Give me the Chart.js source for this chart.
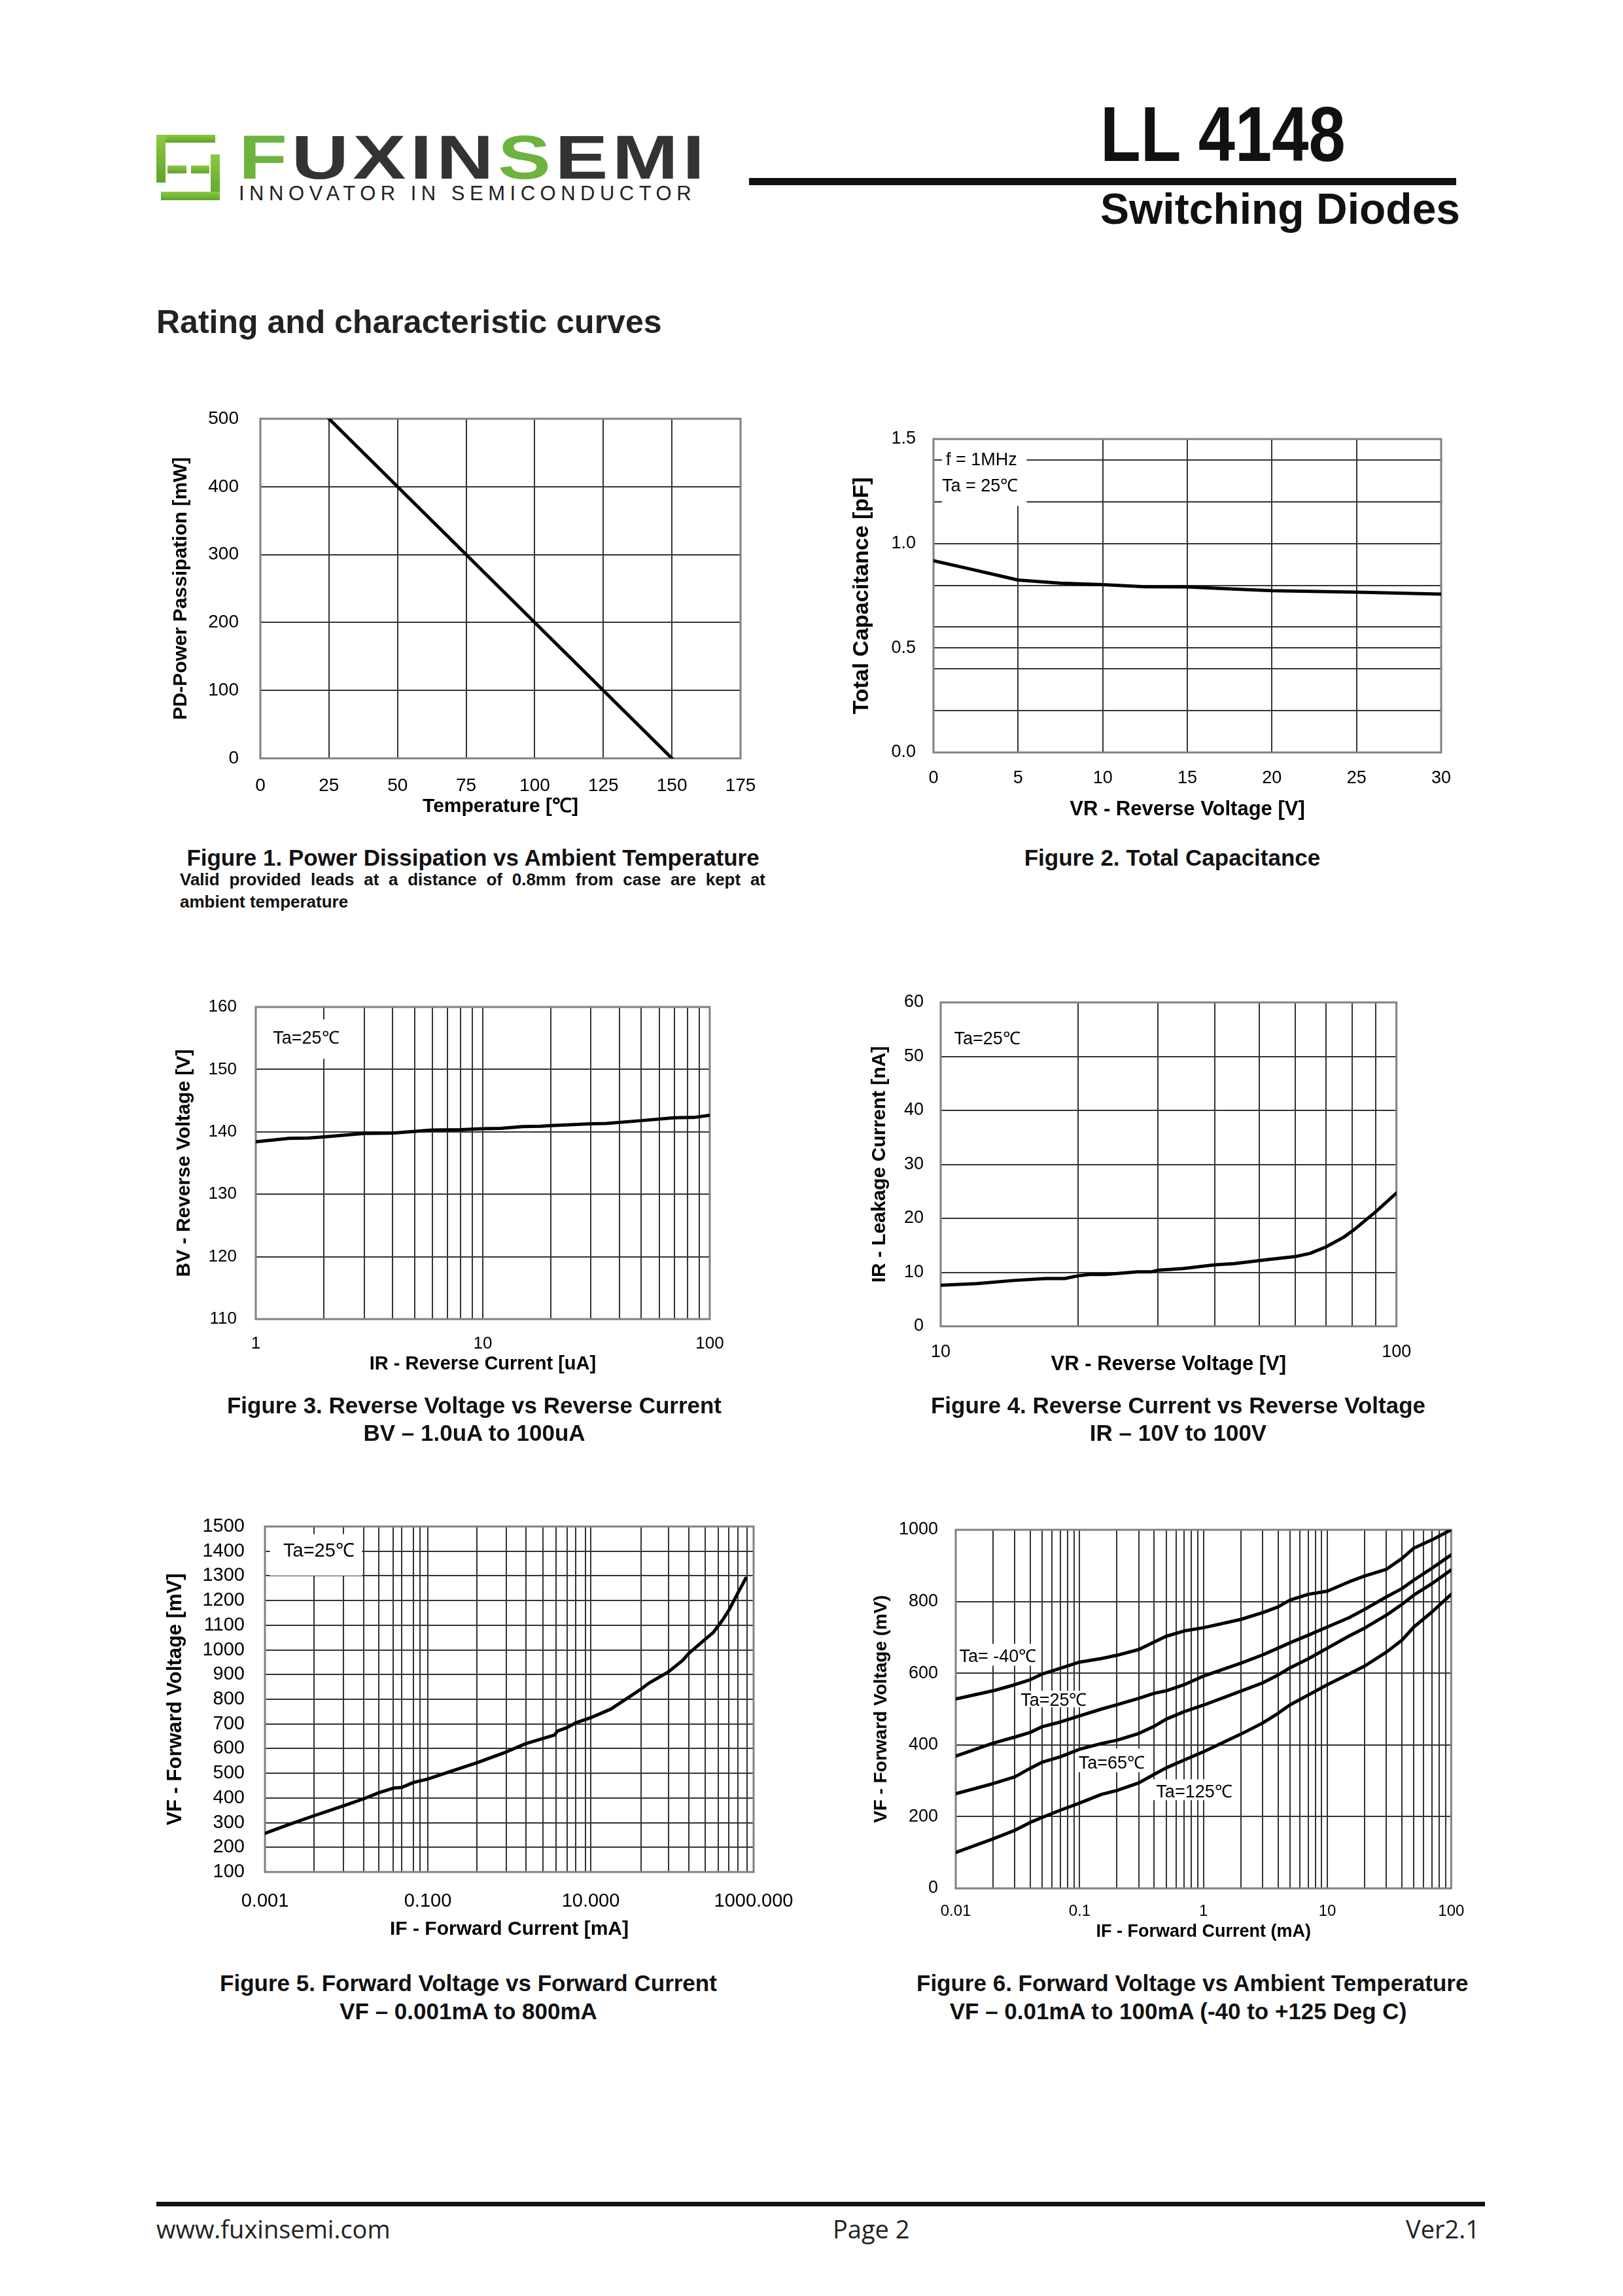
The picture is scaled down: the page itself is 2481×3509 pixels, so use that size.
<!DOCTYPE html>
<html>
<head>
<meta charset="utf-8">
<script src="https://cdn.jsdelivr.net/npm/chart.js@4.4.1/dist/chart.umd.min.js"></script>
<style>
html, body { margin: 0; padding: 0; background: #fff; }
body { width: 2481px; height: 3509px; position: relative; overflow: hidden; font-family: "Liberation Sans", Arial, sans-serif; color: #000; }
.abs { position: absolute; white-space: nowrap; }
canvas { position: absolute; }
.cap { position: absolute; font-weight: bold; font-size: 35px; line-height: 42px; text-align: center; color: #111; white-space: nowrap; }
.g { position: absolute; background: linear-gradient(#8fc843, #5da32b); }
</style>
</head>
<body>

<!-- header -->
<div class="abs" style="left:239px;top:206px;width:97px;height:100px;">
  <div class="g" style="left:0;top:0;width:90px;height:12px;"></div>
  <div class="g" style="left:0;top:0;width:14px;height:73px;"></div>
  <div class="g" style="left:17px;top:47px;width:29px;height:12px;"></div>
  <div class="g" style="left:53px;top:47px;width:28px;height:12px;"></div>
  <div class="g" style="left:83px;top:30px;width:14px;height:70px;"></div>
  <div class="g" style="left:7px;top:87px;width:90px;height:13px;"></div>
</div>
<div class="abs" style="left:365px;top:194px;font-size:94px;line-height:94px;font-weight:bold;letter-spacing:5px;transform:scaleX(1.29);transform-origin:0 0;color:#333;">
  <span style="color:#6db33f">F</span>UXIN<span style="color:#6db33f">S</span>EMI
</div>
<div class="abs" style="left:365px;top:280px;font-size:31px;line-height:31px;letter-spacing:7.5px;color:#222;">INNOVATOR IN SEMICONDUCTOR</div>

<div class="abs" style="left:1682px;top:145px;font-size:119px;line-height:119px;font-weight:bold;transform:scaleX(0.85);transform-origin:0 0;color:#111;">LL 4148</div>
<div class="abs" style="left:1145px;top:272px;width:1081px;height:11px;background:#111;"></div>
<div class="abs" style="left:1682px;top:286px;font-size:66px;line-height:66px;font-weight:bold;color:#111;">Switching Diodes</div>

<div class="abs" style="left:239px;top:467px;font-size:50px;line-height:50px;font-weight:bold;color:#222;">Rating and characteristic curves</div>

<!-- charts -->
<canvas id="fig1"></canvas>
<canvas id="fig2"></canvas>
<canvas id="fig3"></canvas>
<canvas id="fig4"></canvas>
<canvas id="fig5"></canvas>
<canvas id="fig6"></canvas>

<!-- captions -->
<div class="cap" style="left:273px;top:1290px;width:900px;">Figure 1. Power Dissipation vs Ambient Temperature</div>
<div class="abs" style="left:275px;top:1327px;width:895px;font-size:26px;line-height:34px;font-weight:bold;white-space:normal;text-align:justify;text-align-last:left;color:#111;">Valid provided leads at a distance of 0.8mm from case are kept at ambient temperature</div>
<div class="cap" style="left:1392px;top:1290px;width:800px;">Figure 2. Total Capacitance</div>

<div class="cap" style="left:325px;top:2127px;width:800px;">Figure 3. Reverse Voltage vs Reverse Current</div>
<div class="cap" style="left:325px;top:2169px;width:800px;">BV – 1.0uA to 100uA</div>
<div class="cap" style="left:1401px;top:2127px;width:800px;">Figure 4. Reverse Current vs Reverse Voltage</div>
<div class="cap" style="left:1401px;top:2169px;width:800px;">IR – 10V to 100V</div>

<div class="cap" style="left:316px;top:3010px;width:800px;">Figure 5. Forward Voltage vs Forward Current</div>
<div class="cap" style="left:316px;top:3053px;width:800px;">VF – 0.001mA to 800mA</div>
<div class="cap" style="left:1401px;top:3010px;width:800px;">Figure 6. Forward Voltage vs Ambient Temperature</div>
<div class="cap" style="left:1401px;top:3053px;width:800px;">VF – 0.01mA to 100mA (-40 to +125 Deg C)</div>

<!-- footer -->
<div class="abs" style="left:239px;top:3365px;width:2031px;height:7px;background:#111;"></div>
<div class="abs" style="left:239px;top:3387px;font-family:'Open Sans',sans-serif;font-size:38px;line-height:38px;color:#222;">www.fuxinsemi.com</div>
<div class="abs" style="left:1273px;top:3387px;font-family:'Open Sans',sans-serif;font-size:38px;line-height:38px;color:#222;">Page 2</div>
<div class="abs" style="left:2062px;width:200px;text-align:right;top:3387px;font-family:'Open Sans',sans-serif;font-size:38px;line-height:38px;color:#222;">Ver2.1</div>

<script>
// ---------- data ----------

// Figure 1: power derating
const fig1Temp = [25, 150];
const fig1Power = [500, 0];
const fig1TicksX = [0, 25, 50, 75, 100, 125, 150, 175];
const fig1TicksY = [0, 100, 200, 300, 400, 500];

// Figure 2: total capacitance vs reverse voltage
const fig2Vr = [0, 2, 4, 5, 7.5, 10, 12.5, 15, 17.5, 20, 25, 30];
const fig2Cap = [0.918, 0.881, 0.844, 0.825, 0.81, 0.803, 0.793, 0.792, 0.783, 0.774, 0.767, 0.758];
const fig2TicksX = [0, 5, 10, 15, 20, 25, 30];
const fig2TicksY = [0, 0.2, 0.4, 0.5, 0.6, 0.8, 1.0, 1.2, 1.4, 1.5];
const fig2LabelsY = [0, 0.5, 1.0, 1.5];

// Figure 3: breakdown voltage vs reverse current
const fig3Ir = [1, 1.4, 1.7, 2, 3, 4, 6, 8, 10, 12, 15, 18, 20, 30, 35, 50, 70, 85, 100];
const fig3Bv = [138.4, 138.95, 139.0, 139.2, 139.75, 139.8, 140.3, 140.35, 140.5, 140.55, 140.85, 140.9, 141.0, 141.3, 141.35, 141.8, 142.25, 142.3, 142.65];
const fig3GridX = [1, 2, 3, 4, 5, 6, 7, 8, 9, 10, 20, 30, 40, 50, 60, 70, 80, 90, 100];
const fig3LabelsX = [1, 10, 100];
const fig3TicksY = [110, 120, 130, 140, 150, 160];

// Figure 4: leakage current vs reverse voltage
const fig4Vr = [10, 12, 14.5, 17, 18.7, 20, 21.2, 23, 27, 29, 30, 34, 40, 44, 52.6, 59.8, 64.6, 70, 76.6, 81.3, 90.6, 100];
const fig4Ir = [7.6, 7.9, 8.5, 8.85, 8.85, 9.35, 9.6, 9.6, 10.1, 10.1, 10.4, 10.7, 11.4, 11.6, 12.4, 12.9, 13.5, 14.7, 16.5, 18.1, 21.4, 24.7];
const fig4GridX = [10, 20, 30, 40, 50, 60, 70, 80, 90, 100];
const fig4LabelsX = [10, 100];
const fig4TicksY = [0, 10, 20, 30, 40, 50, 60];

// Figure 5: forward voltage vs forward current
const fig5If = [0.001, 0.002, 0.004, 0.0092, 0.0164, 0.025, 0.0377, 0.048, 0.067, 0.1, 0.2, 0.404, 0.85, 1.59, 3.6, 3.9, 5.1, 6.5, 10.3, 17.6, 34, 41.4, 51, 90, 135, 160, 254, 320, 420, 495, 642, 800];
const fig5Vf = [257, 293, 328, 368, 397, 421, 440, 443, 463, 477, 510, 543, 582, 620, 655, 671, 685, 704, 727, 760, 822, 841, 864, 911, 958, 986, 1043, 1071, 1123, 1160, 1231, 1290];
const fig5GridX = [0.001, 0.004, 0.0092, 0.0164, 0.025, 0.0377, 0.048, 0.067, 0.0806, 0.1, 0.404, 0.912, 1.59, 2.57, 3.72, 5.1, 6.49, 8.57, 10, 41.4, 90, 160, 254, 368, 495, 642, 832, 1000];
const fig5LabelsX = [0.001, 0.1, 10, 1000];
const fig5LabelText = ['0.001', '0.100', '10.000', '1000.000'];
const fig5TicksY = [100, 200, 300, 400, 500, 600, 700, 800, 900, 1000, 1100, 1200, 1300, 1400, 1500];

// Figure 6: forward voltage at four ambient temperatures
const fig6If = [0.01, 0.02, 0.03, 0.04, 0.05, 0.07, 0.1, 0.15, 0.2, 0.3, 0.4, 0.5, 0.7, 1, 2, 3, 4, 5, 7, 10, 15, 20, 30, 40, 50, 70, 100];
const fig6VfM40 = [528, 551, 568, 582, 598, 614, 631, 641, 650, 666, 687, 703, 718, 727, 750, 769, 785, 804, 820, 829, 855, 871, 890, 920, 949, 972, 1000];
const fig6Vf25 = [369, 405, 422, 435, 451, 464, 481, 500, 512, 530, 544, 551, 568, 592, 628, 651, 670, 685, 706, 729, 755, 778, 813, 836, 860, 893, 930];
const fig6Vf65 = [264, 292, 311, 335, 352, 367, 388, 404, 413, 432, 452, 472, 493, 511, 550, 573, 595, 615, 640, 670, 704, 726, 762, 792, 818, 850, 888];
const fig6Vf125 = [100, 138, 162, 184, 198, 218, 238, 262, 273, 294, 318, 336, 358, 381, 430, 461, 488, 512, 539, 568, 598, 620, 659, 692, 729, 771, 820];
const fig6GridX = [0.01, 0.02, 0.03, 0.04, 0.05, 0.06, 0.07, 0.08, 0.09, 0.1, 0.2, 0.3, 0.4, 0.5, 0.6, 0.7, 0.8, 0.9,
  1, 2, 3, 4, 5, 6, 7, 8, 9, 10, 20, 30, 40, 50, 60, 70, 80, 90, 100];
const fig6LabelsX = [0.01, 0.1, 1, 10, 100];
const fig6TicksY = [0, 200, 400, 600, 800, 1000];

// ---------- chart setup ----------
const GRID = '#333';

Chart.defaults.font.family = '"Liberation Sans", Arial, sans-serif';
Chart.defaults.color = '#000';
Chart.defaults.animation = false;
Chart.defaults.responsive = false;
Chart.defaults.devicePixelRatio = 1;
Chart.defaults.events = [];
Chart.defaults.plugins.legend.display = false;
Chart.defaults.plugins.tooltip.enabled = false;

// white label boxes over the grid + grey frame round the plot
const notes = {
  id: 'notes',
  beforeDatasetsDraw(chart, args, opts) {
    const {ctx, chartArea: a} = chart;
    const sx = chart.scales.x, sy = chart.scales.y;
    ctx.save();
    (opts.items || []).forEach(n => {
      const x0 = sx.getPixelForValue(n.box[0]), x1 = sx.getPixelForValue(n.box[1]);
      const y0 = sy.getPixelForValue(n.box[2]), y1 = sy.getPixelForValue(n.box[3]);
      ctx.fillStyle = '#fff';
      ctx.fillRect(Math.min(x0, x1), Math.min(y0, y1), Math.abs(x1 - x0), Math.abs(y1 - y0));
      ctx.fillStyle = '#000';
      ctx.font = (opts.size || 27) + 'px "Liberation Sans", Arial, sans-serif';
      ctx.textBaseline = 'middle';
      ctx.textAlign = 'left';
      n.lines.forEach(l => ctx.fillText(l[0], sx.getPixelForValue(l[1]), sy.getPixelForValue(l[2])));
    });
    ctx.strokeStyle = '#808080';
    ctx.lineWidth = 3;
    ctx.strokeRect(a.left, a.top, a.right - a.left, a.bottom - a.top);
    ctx.restore();
  }
};
Chart.register(notes);

function setup(id, b) {
  const cv = document.getElementById(id);
  cv.width = 10 + b.yW + (b.R - b.L) + b.padR;
  cv.height = b.padT + (b.B - b.T) + b.xH + 10;
  cv.style.left = (b.L - b.yW - 10) + 'px';
  cv.style.top = (b.T - b.padT) + 'px';
  return cv;
}

function axisX(b, type, min, max, ticks, label) {
  return {
    type: type, min: min, max: max, position: 'bottom',
    afterFit: s => { s.height = b.xH; },
    afterBuildTicks: s => { s.ticks = ticks.map(v => ({value: v})); },
    grid: {color: GRID, lineWidth: 2, drawTicks: false},
    border: {display: false},
    ticks: {
      padding: b.xTickY - b.B - b.xTickFont * 0.6,
      font: {size: b.xTickFont}, color: '#000',
      maxRotation: 0, minRotation: 0, autoSkip: false,
      callback: label
    },
    title: {
      display: true, text: b.xTitle, color: '#000',
      font: {size: b.xTitleFont, weight: 'bold'},
      padding: {top: 0, bottom: b.B + b.xH - b.xTitleY - b.xTitleFont * 0.6}
    }
  };
}

function axisY(b, min, max, ticks, label) {
  return {
    type: 'linear', min: min, max: max, position: 'left',
    afterFit: s => { s.width = b.yW; },
    afterBuildTicks: s => { s.ticks = ticks.map(v => ({value: v})); },
    grid: {color: GRID, lineWidth: 2, drawTicks: false},
    border: {display: false},
    ticks: {
      padding: b.L - b.yTickR,
      font: {size: b.yTickFont}, color: '#000', autoSkip: false,
      callback: label || (v => String(v))
    },
    title: {
      display: true, text: b.yTitle, color: '#000',
      font: {size: b.yTitleFont, weight: 'bold'},
      padding: {top: b.yTitleX - (b.L - b.yW) - b.yTitleFont * 0.6, bottom: 0}
    }
  };
}

function series(xs, ys) {
  return {
    data: xs.map((x, i) => ({x: x, y: ys[i]})),
    borderColor: '#000', borderWidth: 5, pointRadius: 0,
    borderJoinStyle: 'round', borderCapStyle: 'round', tension: 0, fill: false
  };
}

function draw(id, b, datasets, x, y, items, size) {
  setup(id, b);
  return new Chart(document.getElementById(id), {
    type: 'line',
    data: {datasets: datasets},
    options: {
      layout: {padding: {left: 10, top: b.padT, right: b.padR, bottom: 10}},
      scales: {x: x, y: y},
      plugins: {notes: {items: items || [], size: size}}
    }
  });
}

// Figure 1
const b1 = {L: 398, R: 1132, T: 640, B: 1159, yW: 150, xH: 120, padT: 60, padR: 60,
  yTickR: 365, yTickFont: 28, yTitleX: 277, yTitleFont: 30, yTitle: 'PD-Power Passipation [mW]',
  xTickY: 1201, xTickFont: 28, xTitleY: 1233, xTitleFont: 30, xTitle: 'Temperature [℃]'};
draw('fig1', b1, [series(fig1Temp, fig1Power)],
  axisX(b1, 'linear', 0, 175, fig1TicksX, v => String(v)),
  axisY(b1, 0, 500, fig1TicksY));

// Figure 2
const b2 = {L: 1427, R: 2203, T: 671, B: 1150, yW: 150, xH: 120, padT: 60, padR: 40,
  yTickR: 1400, yTickFont: 27, yTitleX: 1318, yTitleFont: 34, yTitle: 'Total Capacitance [pF]',
  xTickY: 1190, xTickFont: 27, xTitleY: 1237, xTitleFont: 31, xTitle: 'VR - Reverse Voltage [V]'};
draw('fig2', b2, [series(fig2Vr, fig2Cap)],
  axisX(b2, 'linear', 0, 30, fig2TicksX, v => String(v)),
  axisY(b2, 0, 1.5, fig2TicksY, v => fig2LabelsY.includes(v) ? v.toFixed(1) : ''),
  [{box: [0.5, 5.5, 1.18, 1.5], lines: [['f = 1MHz', 0.73, 1.398], ['Ta = 25℃', 0.5, 1.274]]}], 27);

// Figure 3
const b3 = {L: 391, R: 1089, T: 1539, B: 2016, yW: 150, xH: 110, padT: 60, padR: 40,
  yTickR: 362, yTickFont: 26, yTitleX: 282, yTitleFont: 30, yTitle: 'BV - Reverse Voltage [V]',
  xTickY: 2054, xTickFont: 26, xTitleY: 2085, xTitleFont: 29, xTitle: 'IR - Reverse Current [uA]'};
draw('fig3', b3, [series(fig3Ir, fig3Bv)],
  axisX(b3, 'logarithmic', 1, 100, fig3GridX, v => fig3LabelsX.includes(v) ? String(v) : ''),
  axisY(b3, 110, 160, fig3TicksY),
  [{box: [1.1, 2.4, 151.7, 158], lines: [['Ta=25℃', 1.19, 154.9]]}], 27);

// Figure 4
const b4 = {L: 1438, R: 2141, T: 1532, B: 2027, yW: 150, xH: 110, padT: 60, padR: 40,
  yTickR: 1412, yTickFont: 27, yTitleX: 1345, yTitleFont: 30, yTitle: 'IR - Leakage Current [nA]',
  xTickY: 2067, xTickFont: 27, xTitleY: 2085, xTitleFont: 31, xTitle: 'VR - Reverse Voltage [V]'};
draw('fig4', b4, [series(fig4Vr, fig4Ir)],
  axisX(b4, 'logarithmic', 10, 100, fig4GridX, v => fig4LabelsX.includes(v) ? String(v) : ''),
  axisY(b4, 0, 60, fig4TicksY),
  [{box: [10.3, 17, 50.5, 58], lines: [['Ta=25℃', 10.7, 53.2]]}], 27);

// Figure 5
const b5 = {L: 405, R: 1152, T: 2333, B: 2861, yW: 170, xH: 120, padT: 60, padR: 90,
  yTickR: 374, yTickFont: 29, yTitleX: 268, yTitleFont: 31, yTitle: 'VF - Forward Voltage [mV]',
  xTickY: 2906, xTickFont: 29, xTitleY: 2949, xTitleFont: 30, xTitle: 'IF - Forward Current [mA]'};
draw('fig5', b5, [series(fig5If, fig5Vf)],
  axisX(b5, 'logarithmic', 0.001, 1000, fig5GridX, v => {
    const i = fig5LabelsX.indexOf(v);
    return i >= 0 ? fig5LabelText[i] : '';
  }),
  axisY(b5, 100, 1500, fig5TicksY),
  [{box: [0.00115, 0.0155, 1301, 1469], lines: [['Ta=25℃', 0.00168, 1398]]}], 29);

// Figure 6
const b6 = {L: 1461, R: 2219, T: 2338, B: 2886, yW: 150, xH: 110, padT: 60, padR: 40,
  yTickR: 1434, yTickFont: 27, yTitleX: 1347, yTitleFont: 28, yTitle: 'VF - Forward Voltage (mV)',
  xTickY: 2921, xTickFont: 24, xTitleY: 2953, xTitleFont: 27, xTitle: 'IF - Forward Current (mA)'};
draw('fig6', b6, [
    series(fig6If, fig6VfM40), series(fig6If, fig6Vf25),
    series(fig6If, fig6Vf65), series(fig6If, fig6Vf125)],
  axisX(b6, 'logarithmic', 0.01, 100, fig6GridX, v => fig6LabelsX.includes(v) ? String(v) : ''),
  axisY(b6, 0, 1000, fig6TicksY),
  [
    {box: [0.01, 0.0476, 621, 682], lines: [['Ta= -40℃', 0.0107, 645]]},
    {box: [0.0304, 0.117, 505, 551], lines: [['Ta=25℃', 0.0334, 523]]},
    {box: [0.093, 0.344, 324, 390], lines: [['Ta=65℃', 0.098, 348]]},
    {box: [0.376, 1.98, 246, 304], lines: [['Ta=125℃', 0.415, 268]]}
  ], 27);
</script>
</body>
</html>
